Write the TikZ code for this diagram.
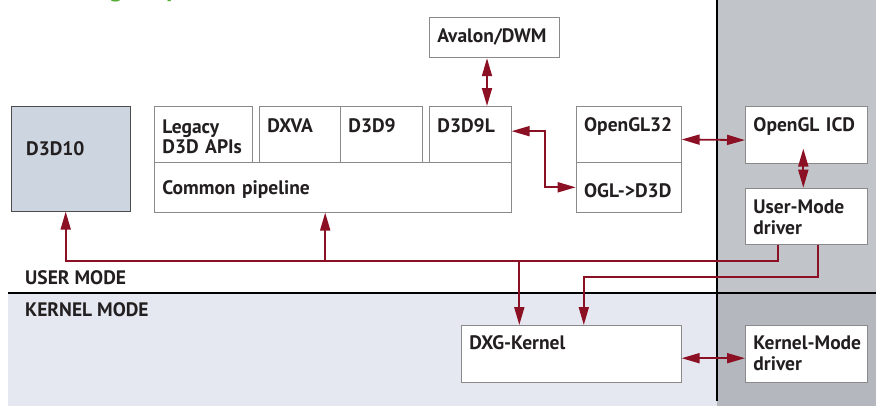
\documentclass[tikz,border=0pt]{standalone}
\usepackage{fontspec}
\setsansfont{PT Sans}
\usetikzlibrary{arrows.meta, calc}

\definecolor{arrowred}{RGB}{140,16,36}
\definecolor{boxline}{RGB}{138,138,138}
\definecolor{umgray}{RGB}{193,196,201}
\definecolor{kmgray}{RGB}{180,183,189}
\definecolor{kernelbg}{RGB}{229,232,240}
\definecolor{d3dfill}{RGB}{205,213,224}
\definecolor{txtdark}{RGB}{35,31,32}
\definecolor{headgreen}{RGB}{84,172,52}

\begin{document}
\begin{tikzpicture}[
    x=1pt, y=-1pt,
    font=\sffamily\bfseries\fontsize{19.5}{20.5}\selectfont,
    box/.style={draw=boxline, fill=white, anchor=north west, align=left, text=txtdark, inner xsep=8pt, inner ysep=0pt, line width=0.9pt},
    modelabel/.style={anchor=base west, text=txtdark, inner sep=0pt},
    arrow/.style={-{Triangle[length=18pt, width=10pt]}, line width=1.8pt, draw=arrowred},
    biarrow/.style={{Triangle[length=18pt, width=10pt]}-{Triangle[length=18pt, width=10pt]}, line width=1.8pt, draw=arrowred}
  ]
    \useasboundingbox (0,0) rectangle (882,412);

    % Mode areas
    \fill[umgray] (717,0) rectangle (875.5,293);
    \fill[kmgray] (717,293) rectangle (875.5,406);
    \fill[kernelbg] (8,293) rectangle (717,406);
    \draw[line width=2pt] (8,293) -- (875.5,293);
    \draw[line width=2.2pt] (717,0) -- (717,401);

    % Heading, cut off at the top
    \begin{scope}
      \clip (0,0) rectangle (882,3);
      \node[anchor=base west, text=headgreen, font=\sffamily\bfseries\fontsize{26}{26}\selectfont, inner sep=0pt] (headg) at (109,-3.5) {g};
      \node[anchor=base west, text=headgreen, font=\sffamily\bfseries\fontsize{26}{26}\selectfont, inner sep=0pt] (headp) at (166,-3.5) {p};
    \end{scope}

    \node[modelabel] (usermode) at (25,284) {USER MODE};
    \node[modelabel] (kernelmode) at (25,316.7) {KERNEL MODE};

    % User mode boxes
    \node[box, draw=black!70, fill=d3dfill, inner xsep=15pt, text width=89.3, text height=49, text depth=55.7] (d3d10) at (10.7,106) {D3D10};
    \node[box, text width=81.7, text height=27, text depth=29] (legacy) at (154,106) {Legacy\\D3D APIs};
    \node[box, text width=65, text height=26, text depth=30] (dxva) at (259,106) {DXVA};
    \node[box, text width=65.7, text height=26, text depth=30] (d3d9) at (340,106) {D3D9};
    \node[box, text width=65.7, text height=26, text depth=30] (d3d9l) at (429,106) {D3D9L};
    \node[box, text width=340.7, text height=32, text depth=17.7] (common) at (154,162) {Common pipeline};
    \node[box, text width=114, text height=25.6, text depth=15] (avalon) at (429,16.7) {Avalon/DWM};
    \node[box, text width=89, text height=25, text depth=31] (opengl32) at (575.7,106) {OpenGL32};
    \node[box, text width=89, text height=34.7, text depth=15] (ogl2d3d) at (575.7,162) {OGL->D3D};
    \node[box, text width=105.7, text height=25, text depth=31.7] (icd) at (745,106) {OpenGL ICD};
    \node[box, text width=105.7, text height=25.7, text depth=30.6] (umd) at (745,187.7) {User-Mode\\driver};

    % Kernel mode boxes
    \node[box, text width=203.7, text height=24.3, text depth=32.4] (dxg) at (461,325) {DXG-Kernel};
    \node[box, text width=105.7, text height=24.3, text depth=32.4] (kmd) at (745,325) {\mbox{Kernel-Mode}\\driver};

    % Connectors
    \draw[biarrow] ([xshift=16.7]d3d9l.north |- avalon.south) -- ([xshift=16.7]d3d9l.north);
    \draw[biarrow] ([yshift=3.3]d3d9l.east) -- ++(33,0) |- (ogl2d3d.west);
    \draw[biarrow] ([yshift=-5]opengl32.east) -- ([yshift=-5.3]icd.west);
    \draw[biarrow] ([xshift=-3,yshift=15]icd.south) -- ([xshift=-3]umd.north);
    \draw[biarrow] ([yshift=-4.4]dxg.east) -- ([yshift=-4.4]kmd.west);

    \coordinate (busR) at (778.3,260.7);
    \coordinate (busL) at (65.7,260.7);
    \coordinate (bus2) at (818.3,277);
    \draw[arrow] (umd.south -| busR) -- (busR) -- (busL) -- (d3d10.south -| busL);
    \draw[arrow] ([xshift=-7.6]common.south |- busL) -- ([xshift=-7.6]common.south);
    \draw[arrow] ([xshift=-52]dxg.north |- busL) -- ([xshift=-52]dxg.north);
    \draw[arrow] (umd.south -| bus2) -- (bus2) -| ([xshift=12.5]dxg.north);
\end{tikzpicture}
\end{document}
